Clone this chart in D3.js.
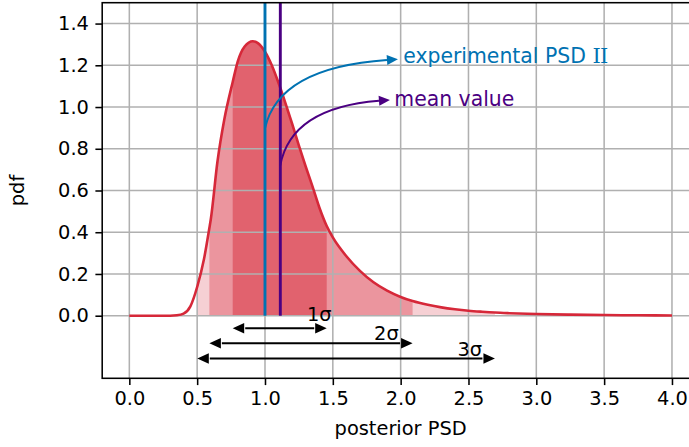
<!DOCTYPE html>
<html><head><meta charset="utf-8">
<script src="https://cdn.jsdelivr.net/npm/d3@7"></script>
<style>body{margin:0;background:#fff}svg{display:block}text{font-family:"DejaVu Sans",sans-serif}</style>
</head><body><svg id="c" width="689" height="447"></svg>
<script>
// ---- data ----
const curveX = [0.00,0.20,0.30,0.35,0.40,0.45,0.501,0.55,0.590,0.60,0.65,0.70,0.762,0.80,0.85,0.91,0.95,1.00,1.05,1.10,1.15,1.20,1.25,1.30,1.35,1.40,1.455,1.50,1.60,1.70,1.80,1.90,2.00,2.088,2.20,2.30,2.40,2.50,2.60,2.695,2.80,3.00,3.25,3.50,3.75,4.00];
const curveY = [0.000,0.000,0.000,0.002,0.010,0.045,0.140,0.270,0.420,0.460,0.740,0.940,1.120,1.220,1.290,1.315,1.305,1.265,1.200,1.115,1.020,0.920,0.815,0.715,0.620,0.520,0.430,0.375,0.285,0.215,0.160,0.120,0.090,0.070,0.052,0.040,0.031,0.024,0.019,0.015,0.012,0.008,0.005,0.003,0.002,0.001];
const xTicks = [0.0,0.5,1.0,1.5,2.0,2.5,3.0,3.5,4.0];
const yTicks = [0.0,0.2,0.4,0.6,0.8,1.0,1.2,1.4];
const sigmaLabels = ["1σ","2σ","3σ"];
const sigmaLo = [0.762,0.590,0.501];
const sigmaHi = [1.455,2.088,2.695];
const sigmaArrowY = [-0.060,-0.132,-0.205];
const sigmaLabelX = [1.40,1.895,2.51];
const sigmaLabelY = [-0.025,-0.116,-0.193];
const experimentalValue = 1.0;
const meanValue = 1.113;
const annotTexts = ["experimental PSD ", "mean value"];
const annotSuffix = "II";
const annotStartY = [0.897, 0.721];
const annotTipX = [1.98, 1.921];
const annotTipY = [1.229, 1.034];
const annotTextX = [2.019, 1.953];
const annotTextY = [1.2096, 1.005];

// ---- layout ----
const m = {left:102.2, top:2.7, right:699.1, bottom:378.3};
const RED = "#d62839", BLUE = "#0072b2", PURPLE = "#4b0082";
const FS = 19.4;

const svg = d3.select("#c");
const x = d3.scaleLinear().domain([-0.2,4.2]).range([m.left,m.right]);
const y = d3.scaleLinear().domain([-0.3,1.5]).range([m.bottom,m.top]);

svg.append("defs").append("clipPath").attr("id","clip")
  .append("rect").attr("x",m.left).attr("y",m.top).attr("width",m.right-m.left).attr("height",m.bottom-m.top);

const pts = curveX.map((v,i)=>[v,curveY[i]]);
const plot = svg.append("g").attr("clip-path","url(#clip)");

// sigma bands (overlapping translucent fills)
const area = d3.area().x(d=>x(d[0])).y0(y(0)).y1(d=>y(d[1])).curve(d3.curveMonotoneX);
const bandAlpha = [0.47,0.35,0.22];
[2,1,0].forEach(i=>{
  const seg = pts.filter(p=>p[0]>=sigmaLo[i]-1e-9 && p[0]<=sigmaHi[i]+1e-9);
  plot.append("path").attr("d",area(seg)).attr("fill",RED).attr("fill-opacity",bandAlpha[i]);
});

// grid (above fills, below lines)
const grid = plot.append("g").attr("stroke","#b0b0b0").attr("stroke-width",1.55);
xTicks.forEach(t=>grid.append("line").attr("x1",x(t)).attr("x2",x(t)).attr("y1",m.top).attr("y2",m.bottom));
yTicks.forEach(t=>grid.append("line").attr("y1",y(t)).attr("y2",y(t)).attr("x1",m.left).attr("x2",m.right));

// curve
const line = d3.line().x(d=>x(d[0])).y(d=>y(d[1])).curve(d3.curveMonotoneX);
plot.append("path").attr("d",line(pts)).attr("fill","none").attr("stroke",RED).attr("stroke-width",2.6);

// vertical lines
[[experimentalValue,BLUE],[meanValue,PURPLE]].forEach(([v,c])=>{
  plot.append("line").attr("x1",x(v)).attr("x2",x(v)).attr("y1",y(0)).attr("y2",y(1.5)-5)
    .attr("stroke",c).attr("stroke-width",2.9);
});

function head(g, tip, from, color, L=11, Wd=10){
  const dx = tip[0]-from[0], dy = tip[1]-from[1];
  const len = Math.hypot(dx,dy), ux = dx/len, uy = dy/len;
  const bx = tip[0]-ux*L, by = tip[1]-uy*L;
  const px = -uy*Wd/2, py = ux*Wd/2;
  g.append("path").attr("d",`M${tip[0]},${tip[1]}L${bx+px},${by+py}L${bx-px},${by-py}Z`).attr("fill",color);
  return [bx,by];
}

// sigma arrows
sigmaLo.forEach((lo,i)=>{
  const yy = y(sigmaArrowY[i]);
  const a = [x(lo),yy], b=[x(sigmaHi[i]),yy];
  const s = head(plot,a,b,"#000",11.5,10.5), e = head(plot,b,a,"#000",11.5,10.5);
  plot.append("line").attr("x1",s[0]+1).attr("x2",e[0]-1).attr("y1",yy).attr("y2",yy).attr("stroke","#000").attr("stroke-width",1.9);
  plot.append("text").attr("x",x(sigmaLabelX[i])).attr("y",y(sigmaLabelY[i]))
    .attr("text-anchor","middle").attr("font-size",FS).attr("fill","#000").text(sigmaLabels[i]);
});

// annotation arrows
[[experimentalValue,BLUE],[meanValue,PURPLE]].forEach(([v,c],i)=>{
  const s = [x(v),y(annotStartY[i])], t=[x(annotTipX[i]),y(annotTipY[i])];
  const ctrl = [s[0]+0.1*(t[0]-s[0]), t[1]+0.12*(s[1]-t[1])];
  const e = head(svg,t,ctrl,c);
  svg.append("path").attr("d",`M${s[0]},${s[1]}Q${ctrl[0]},${ctrl[1]} ${e[0]},${e[1]}`)
    .attr("fill","none").attr("stroke",c).attr("stroke-width",1.9);
  const tx = svg.append("text").attr("x",x(annotTextX[i])).attr("y",y(annotTextY[i]))
    .attr("font-size",20.4).attr("fill",c).attr("xml:space","preserve").text(annotTexts[i]);
  if(i===0) tx.append("tspan").attr("font-family","'DejaVu Serif','Liberation Serif',serif")
    .attr("font-size",21).attr("letter-spacing",-0.8).text(annotSuffix);
});

// spines
const sp = svg.append("g").attr("stroke","#000").attr("stroke-width",1.55).attr("fill","none");
sp.append("rect").attr("x",m.left).attr("y",m.top).attr("width",m.right-m.left).attr("height",m.bottom-m.top);

// axes ticks & labels
const xa = svg.append("g").attr("transform",`translate(0,${m.bottom})`)
  .call(d3.axisBottom(x).tickValues(xTicks).tickSize(6.8).tickPadding(6.5).tickFormat(d3.format(".1f")));
const ya = svg.append("g").attr("transform",`translate(${m.left},0)`)
  .call(d3.axisLeft(y).tickValues(yTicks).tickSize(6.8).tickPadding(6.5).tickFormat(d3.format(".1f")));
[xa,ya].forEach(a=>{
  a.select(".domain").remove();
  a.selectAll(".tick line").attr("stroke","#000").attr("stroke-width",1.55);
  a.selectAll(".tick text").attr("font-size",FS).attr("font-family","DejaVu Sans").attr("fill","#000");
});

svg.append("text").attr("x",(m.left+m.right)/2).attr("y",435).attr("text-anchor","middle")
  .attr("font-size",FS).attr("fill","#000").text("posterior PSD");
svg.append("text").attr("transform",`translate(24,${(m.top+m.bottom)/2}) rotate(-90)`)
  .attr("text-anchor","middle").attr("font-size",FS).attr("fill","#000").text("pdf");
</script></body></html>
